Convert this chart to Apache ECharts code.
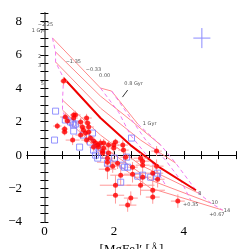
<!DOCTYPE html>
<html><head><meta charset="utf-8">
<script src="https://cdn.jsdelivr.net/npm/echarts@6/dist/echarts.min.js"></script>
<style>html,body{margin:0;padding:0;background:#fff}#c{width:249px;height:249px}</style>
</head><body><div id="c"></div>
<script>
// red galaxies: [x, y, xErr, yErr]
const redX = [0.55,0.89,1.21,0.66,0.37,0.58,0.58,0.60,0.84,0.84,1.04,1.09,1.12,1.24,1.27,1.27,1.18,0.81,1.04,1.32,1.41,1.47,1.41,1.55,1.53,1.70,1.70,1.84,1.99,2.04,2.25,1.67,1.81,1.84,1.99,2.33,2.10,2.27,2.53,2.76,2.82,2.76,3.11,3.11,3.11,2.04,2.19,2.04,2.48,2.39,3.22,3.22,3.25,2.82,2.53,2.82,3.83,1.81,1.96,1.61,1.21,1.67,1.81];
const redY = [4.43,2.40,2.22,2.04,1.74,1.56,1.38,2.28,2.40,2.22,1.98,1.68,1.50,1.92,1.68,1.38,1.32,0.90,1.20,1.02,0.84,0.72,0.48,0.48,0.60,0.72,0.42,0.60,0.60,0.78,0.60,0.12,-0.18,0.12,0.42,-0.12,-0.48,0.30,-0.72,-0.18,-0.60,-1.80,-1.08,-2.10,-2.51,-1.80,-1.20,-2.40,-2.57,-2.99,0.24,-0.66,-1.44,-0.36,-1.14,-1.32,-2.75,-0.42,-0.66,0.72,0.90,0.24,-0.84];
const redXErr = [0.10,0.15,0.15,0.10,0.12,0.10,0.10,0.15,0.10,0.12,0.15,0.10,0.12,0.10,0.15,0.10,0.12,0.20,0.15,0.12,0.10,0.15,0.12,0.15,0.10,0.15,0.12,0.10,0.15,0.12,0.15,0.15,0.20,0.15,0.12,0.15,0.20,0.15,0.15,0.20,0.20,0.40,0.30,0.35,0.20,0.45,0.30,0.25,0.20,0.25,0.15,0.20,0.20,0.20,0.25,0.25,0.20,0.30,0.25,0.15,0.15,0.15,0.25];
const redYErr = [0.25,0.25,0.25,0.20,0.20,0.20,0.20,0.25,0.20,0.20,0.25,0.20,0.20,0.25,0.20,0.25,0.20,0.30,0.25,0.20,0.25,0.20,0.25,0.25,0.20,0.25,0.20,0.25,0.25,0.20,0.30,0.30,0.30,0.25,0.25,0.30,0.35,0.30,0.30,0.30,0.35,0.60,0.50,0.60,0.40,0.60,0.60,0.50,0.40,0.40,0.30,0.40,0.50,0.35,0.50,0.40,0.40,0.40,0.40,0.25,0.25,0.30,0.60];
// blue comparison sample
const blueX = [0.32,0.60,0.75,0.81,0.84,0.89,0.84,1.12,1.38,0.29,1.01,1.32,1.41,1.47,1.53,1.53,1.70,1.81,2.01,2.25,2.39,2.68,2.82,3.05,3.25,2.19,2.50,2.36,3.22,2.30];
const blueY = [2.63,2.10,1.98,1.92,1.80,1.86,1.44,1.20,1.32,0.90,0.48,0.78,0.30,0.00,-0.18,0.48,0.00,-0.48,-0.18,-0.60,-0.72,-1.26,-1.20,-1.32,-1.08,-1.62,1.02,-0.12,-1.26,-0.72];
// model grid: lines of constant age (solid)
const age1 = [[0.23,7.01],[1.61,4.01],[1.93,3.83],[2.68,1.86]];
const age2 = [[0.32,6.17],[1.61,3.53],[2.47,2.10],[3.34,0.60]];
const age3 = [[0.32,5.57],[1.61,2.81],[2.76,0.90],[3.77,-0.48]];
const age5 = [[0.55,4.61],[1.61,2.22],[2.47,0.60],[3.34,-0.78],[4.35,-2.10]];
const age8 = [[0.52,3.29],[1.61,1.20],[2.76,-0.60],[4.43,-2.28]];
const age10 = [[0.52,2.69],[1.61,0.60],[3.05,-1.50],[4.78,-2.87]];
const age14 = [[0.60,2.22],[1.61,0.18],[3.05,-1.98],[5.12,-3.29]];
// lines of constant metallicity (dashed)
const zLow = [[0.23,7.01],[0.32,6.17],[0.32,5.57],[0.55,4.61],[0.52,3.29],[0.52,2.69],[0.60,2.22]];
const zSolar = [[1.61,4.01],[2.13,2.57],[2.47,1.20],[3.05,-0.30],[3.48,-1.80]];
const zP035 = [[1.93,3.83],[2.47,2.22],[2.91,0.90],[3.48,-0.30],[3.91,-1.50],[4.20,-2.69]];
const zP067 = [[2.68,1.86],[3.34,0.60],[3.77,-0.48],[4.35,-2.10],[4.43,-2.28],[4.78,-2.87],[5.12,-3.29]];
const arrow08 = [[2.24,3.47],[2.39,3.89]];
// representative error
const errCross = [4.52, 7.0, 0.245, 0.6];
// grid labels
const gridLabels = [
  ['\u22122.25',0.03,7.78],['1 Gyr',-0.17,7.43],['2',-0.14,5.87],['3',-0.14,5.33],['5',-0.06,4.25],
  ['\u22121.35',0.83,5.57],['\u22120.33',1.41,5.09],['0.00',1.73,4.73],['0.8 Gyr',2.56,4.25],
  ['1 Gyr',3.02,1.86],['8',4.46,-2.28],['10',4.89,-2.87],['14',5.24,-3.35],['+0.35',4.20,-2.99],['+0.67',4.95,-3.59]
];
const xTicks = [0,2,4];
const yTicks = [-4,-2,0,2,4,6,8];

const chart = echarts.init(document.getElementById('c'), null, {renderer:'canvas'});
const serif = 'Liberation Serif';
const redData = redX.map((x,i)=>[x, redY[i], redXErr[i], redYErr[i]]);
const blueData = blueX.map((x,i)=>[x, blueY[i]]);

function lineS(d, color, width, type){
  return {type:'line', data:d, symbol:'none', silent:true, animation:false,
    lineStyle:{color:color, width:width, type:type||'solid'}, z:2};
}
const pink = '#ff8a8a', mag = '#f07af0';
const near = (v, arr) => arr.some(t => Math.abs(t - v) < 1e-6);
const tick = {inside:true, length:4, lineStyle:{color:'#000'}};
const option = {
  animation:false,
  grid:{left:27, right:13, top:13, bottom:27, show:false, containLabel:false, outerBoundsMode:'none'},
  xAxis:[
    {type:'value', min:-0.5, max:5.5, interval:0.5,
      axisLine:{show:true, lineStyle:{color:'#000', width:1}}, splitLine:{show:false},
      axisTick:tick,
      axisLabel:{fontFamily:serif, fontSize:13, color:'#000', margin:3,
        formatter:v=> near(v,xTicks)? String(Math.round(v)):''},
      name:'[MgFe]\u2032 [\u00c5]', nameLocation:'middle', nameGap:12,
      nameTextStyle:{fontFamily:serif, fontSize:13, color:'#000'}},
    {type:'value', min:-0.5, max:5.5, interval:0.5, position:'top',
      axisLine:{show:true, lineStyle:{color:'#000', width:1}}, splitLine:{show:false},
      axisTick:tick, axisLabel:{show:false}}
  ],
  yAxis:[
    {type:'value', min:-4, max:8.5, interval:0.5,
      axisLine:{show:true, lineStyle:{color:'#000', width:1}}, splitLine:{show:false},
      axisTick:tick,
      axisLabel:{fontFamily:serif, fontSize:13, color:'#000', margin:5,
        formatter:v=> near(v,yTicks)? (v<0?'\u2212'+(-v):String(v)):''},
      name:'{a|H\u03b3}{s|F}{a| [\u00c5]}', nameLocation:'middle', nameGap:17,
      nameTextStyle:{rich:{a:{fontFamily:serif, fontSize:13, color:'#000'}, s:{fontFamily:serif, fontSize:9, color:'#000', verticalAlign:'bottom', padding:[6,0,0,0]}}}},
    {type:'value', min:-4, max:8.5, interval:0.5, position:'right',
      axisLine:{show:true, lineStyle:{color:'#888', width:2}}, splitLine:{show:false},
      axisTick:tick, axisLabel:{show:false}}
  ],
  series:[
    lineS(age1,pink,1), lineS(age2,pink,1), lineS(age3,pink,1),
    lineS(age8,pink,1), lineS(age10,pink,1), lineS(age14,pink,1),
    lineS(zLow,mag,1,[4,3]), lineS(zSolar,mag,1,[4,3]), lineS(zP035,mag,1,[4,3]), lineS(zP067,mag,1,[4,3]),
    lineS(age5,'#f00000',2),
    lineS(arrow08,'#000',0.8),
    {type:'custom', silent:true, animation:false, z:3, data:redData,
      renderItem:(p,api)=>{
        const x=api.value(0), y=api.value(1), ex=api.value(2), ey=api.value(3);
        const a=api.coord([x-ex,y]), b=api.coord([x+ex,y]), c=api.coord([x,y-ey]), d=api.coord([x,y+ey]);
        return {type:'group', children:[
          {type:'line', shape:{x1:a[0],y1:a[1],x2:b[0],y2:b[1]}, style:{stroke:'#ff9a9a', lineWidth:1}},
          {type:'line', shape:{x1:c[0],y1:c[1],x2:d[0],y2:d[1]}, style:{stroke:'#ff9a9a', lineWidth:1}}
        ]};
      }},
    {type:'scatter', data:blueData, symbol:'rect', symbolSize:6, silent:true, animation:false, z:4,
      itemStyle:{color:'rgba(0,0,0,0)', borderColor:'#7b7bff', borderWidth:1}},
    {type:'scatter', data:redData.map(d=>[d[0],d[1]]), symbol:'circle', symbolSize:5, silent:true, animation:false, z:5,
      itemStyle:{color:'#ff0000'}},
    {type:'custom', silent:true, animation:false, z:5, data:[errCross],
      renderItem:(p,api)=>{
        const x=api.value(0), y=api.value(1), ex=api.value(2), ey=api.value(3);
        const a=api.coord([x-ex,y]), b=api.coord([x+ex,y]), c=api.coord([x,y-ey]), d=api.coord([x,y+ey]);
        return {type:'group', children:[
          {type:'line', shape:{x1:a[0],y1:a[1],x2:b[0],y2:b[1]}, style:{stroke:'#8a8aff', lineWidth:1}},
          {type:'line', shape:{x1:c[0],y1:c[1],x2:d[0],y2:d[1]}, style:{stroke:'#8a8aff', lineWidth:1}}
        ]};
      }},
    {type:'scatter', data:gridLabels.map(g=>({value:[g[1],g[2]], name:g[0]})), symbolSize:0, silent:true, animation:false, z:6,
      label:{show:true, position:'inside', formatter:p=>p.name, fontSize:5, color:'#222', fontFamily:'DejaVu Sans'}}
  ]
};
chart.setOption(option);
</script></body></html>
